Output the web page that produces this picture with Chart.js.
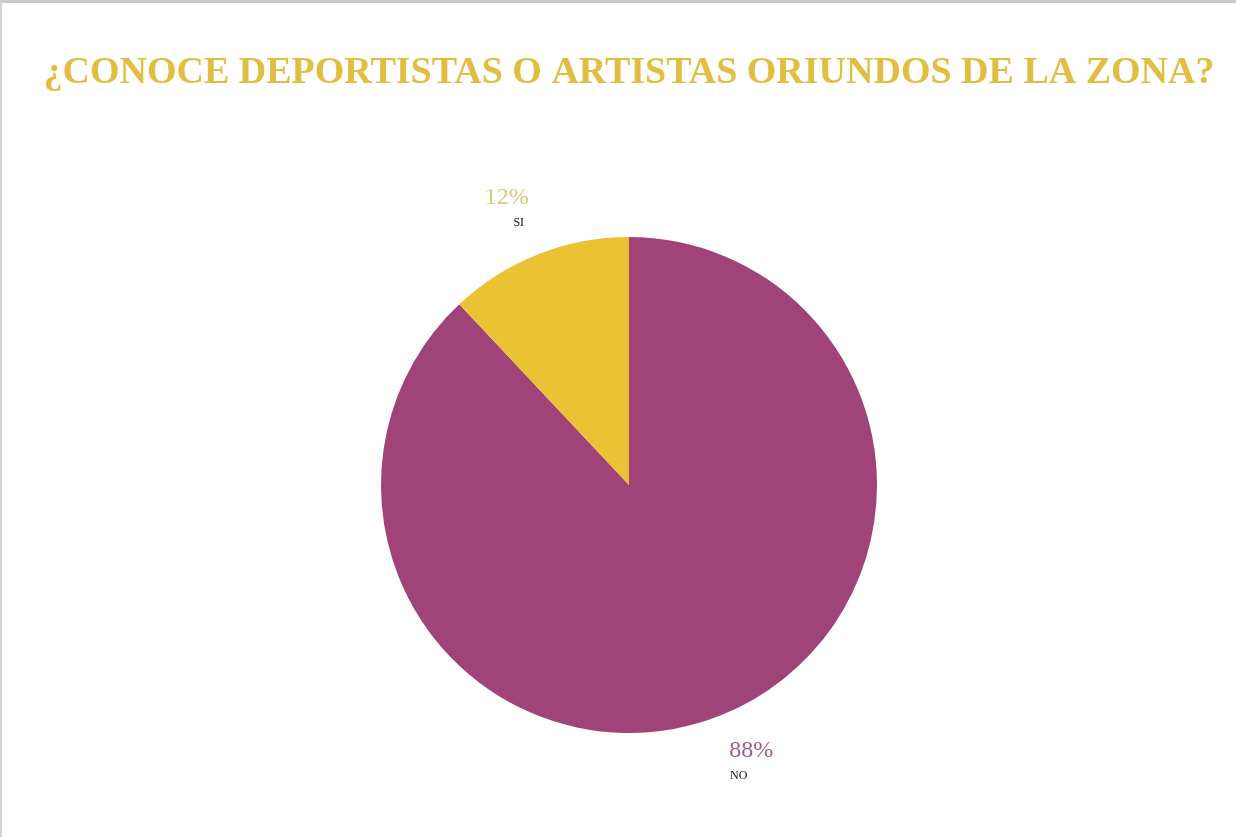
<!DOCTYPE html>
<html>
<head>
<meta charset="utf-8">
<script src="https://cdn.jsdelivr.net/npm/chart.js@4"></script>
<style>
    html, body { margin: 0; padding: 0; background: #fff; }
    #wrap {
        position: absolute; left: 0; top: 0;
        width: 1234px; height: 834px;
        border-top: 3px solid #c9c9c9;
        border-left: 2px solid #d4d4d4;
    }
</style>
</head>
<body>
<div id="wrap"><canvas id="myChart" width="1234" height="834"></canvas></div>
<script>
// data
var categories = ["NO", "SI"];
var values = [88, 12];
var sliceColors = ["#A04379", "#EAC234"];
var pctColors = ["#9A5C8A", "#DCC679"];
var chartTitle = "¿CONOCE DEPORTISTAS O ARTISTAS ORIUNDOS DE LA ZONA?";

// label offsets relative to an anchor just outside each slice
var labelStyle = {
    gap: 46,
    pctDx: [14, -14], pctDy: [-8, -14],
    nameDx: [1.5, -2], nameDy: [17, 11]
};

var outsideLabels = {
    id: "outsideLabels",
    afterDraw: function (chart) {
        var ctx = chart.ctx;
        var total = values.reduce(function (a, b) { return a + b; }, 0);

        // title
        ctx.save();
        ctx.font = "bold 38px 'Liberation Serif', 'Times New Roman', serif";
        ctx.fillStyle = "#E1BE41";
        ctx.textAlign = "center";
        ctx.textBaseline = "alphabetic";
        ctx.fillText(chartTitle, 627, 80);
        ctx.restore();

        var meta = chart.getDatasetMeta(0);
        meta.data.forEach(function (arc, i) {
            var mid = (arc.startAngle + arc.endAngle) / 2;
            var r = arc.outerRadius + labelStyle.gap;
            var x = arc.x + Math.cos(mid) * r;
            var y = arc.y + Math.sin(mid) * r;
            var pct = Math.round(values[i] / total * 100) + "%";

            ctx.save();
            ctx.textAlign = "center";
            ctx.textBaseline = "middle";
            ctx.font = "24px 'Liberation Serif', 'Times New Roman', serif";
            ctx.fillStyle = pctColors[i];
            ctx.fillText(pct, x + labelStyle.pctDx[i], y + labelStyle.pctDy[i]);
            ctx.font = "12px 'Liberation Serif', 'Times New Roman', serif";
            ctx.fillStyle = "#111";
            ctx.fillText(categories[i], x + labelStyle.nameDx[i], y + labelStyle.nameDy[i]);
            ctx.restore();
        });
    }
};

var ctx = document.getElementById("myChart").getContext("2d");
var myPieChart = new Chart(ctx, {
    type: "pie",
    data: {
        labels: categories,
        datasets: [{
            data: values,
            backgroundColor: sliceColors,
            borderWidth: 0
        }]
    },
    options: {
        responsive: false,
        animation: false,
        layout: {
            padding: { top: 234, bottom: 104, left: 379, right: 359 }
        },
        plugins: {
            legend: { display: false },
            title: { display: false },
            tooltip: { enabled: false }
        }
    },
    plugins: [outsideLabels]
});
</script>
</body>
</html>
